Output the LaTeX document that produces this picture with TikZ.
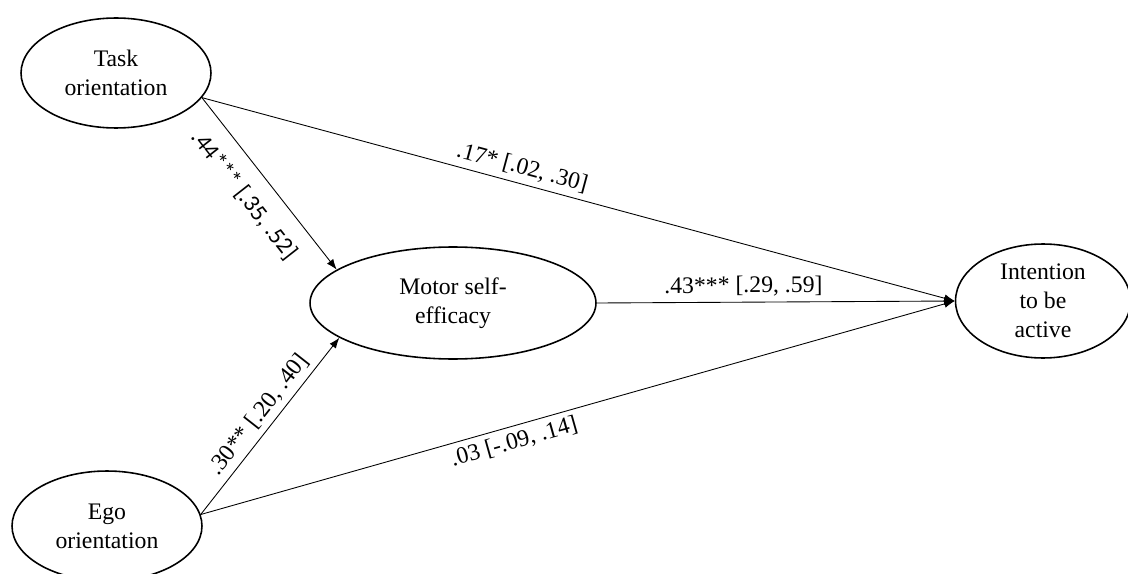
\documentclass[tikz,border=0pt]{standalone}
\usepackage{fontspec}
\setmainfont{Liberation Serif}
\newfontfamily\labelsans{Carlito}
\usetikzlibrary{arrows.meta}
\usetikzlibrary{shapes.geometric}
\tikzset{
	>={Latex[length=6pt,width=4.5pt]},
	latent/.style={draw, ellipse, line width=0.9pt, inner sep=0pt, align=center,
		font=\fontsize{13.5}{16.5}\selectfont},
	link/.style={black, line width=0.5pt, ->},
	est/.style={font=\fontsize{13.5}{16}\selectfont, sloped, inner sep=3pt},
}

\begin{document}
\begin{tikzpicture}[x=0.02cm, y=-0.02cm, line cap=round, line join=round]
	\useasboundingbox (0,0) rectangle (1128,574);
	
	% Latent variables
	\node[latent, minimum width=3.8cm, minimum height=2.2cm] (task) at (116,73) {Task\\orientation};
	\node[latent, minimum width=3.8cm, minimum height=2.2cm] (ego) at (107,526) {Ego\\orientation};
	\node[latent, minimum width=5.72cm, minimum height=2.24cm] (motor) at (453,303) {Motor self-\\efficacy};
	\node[latent, minimum width=3.5cm, minimum height=2.28cm] (intent) at (1043,301) {Intention\\to be\\active};
	
	% Paths with estimates
	\draw[link] (task.-16) -- (motor.164)
		node[est, below=6pt, pos=0.47] {\labelsans .44*** [.35, .52]};
	\draw[link] (ego.7) -- (motor.197)
		node[est, above, pos=0.51] {.30** [.20, .40]};
	\draw[link] (task.-16) -- (intent.west)
		node[est, above, pos=0.42] {.17* [.02, .30]};
	\draw[link] (motor.east) -- (intent.west)
		node[est, above, pos=0.41] {.43*** [.29, .59]};
	\draw[link] (ego.7) -- (intent.west)
		node[est, below, pos=0.41] {.03 [-.09, .14]};
	
\end{tikzpicture}
\end{document}
